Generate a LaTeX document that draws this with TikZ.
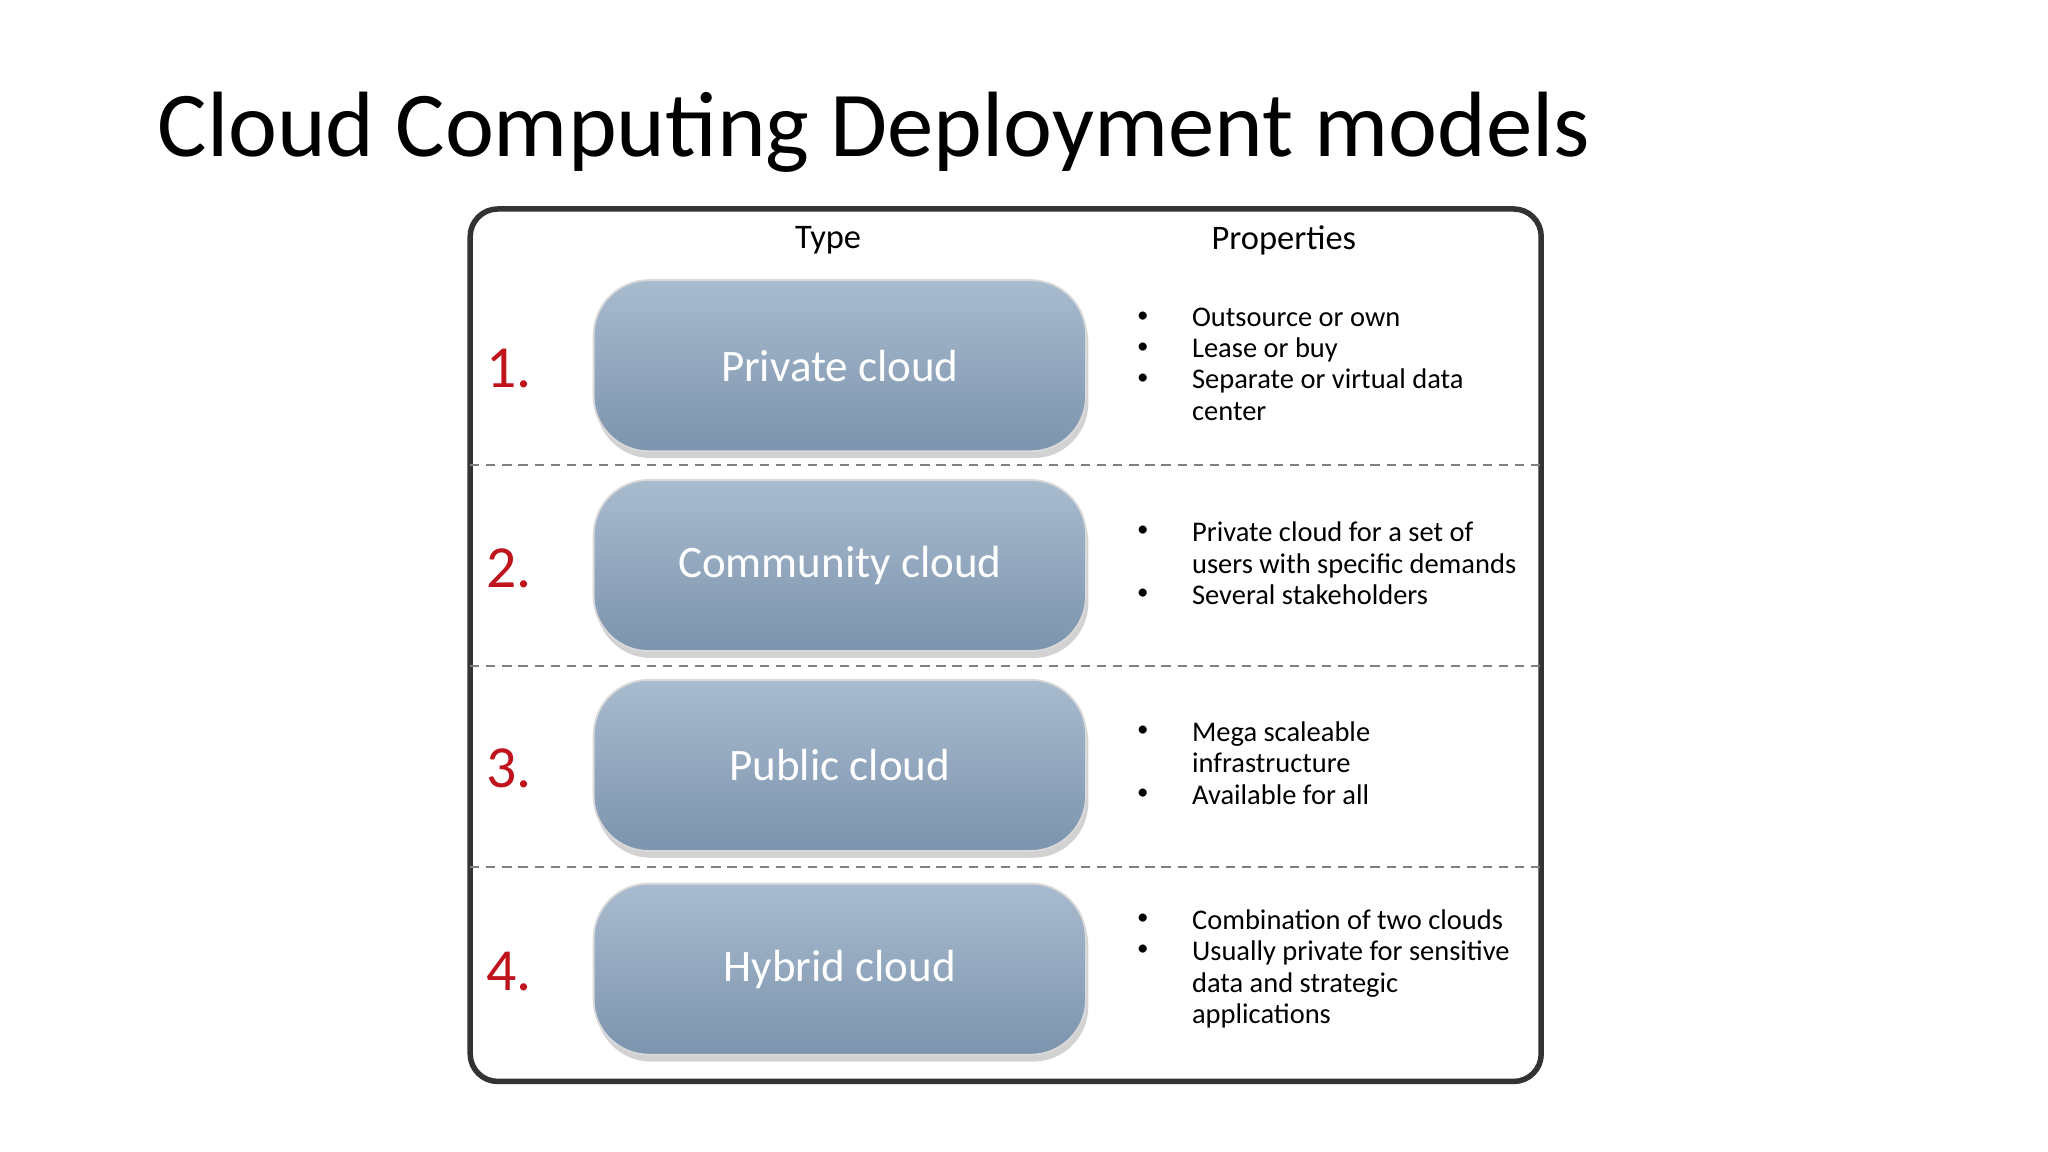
\documentclass[tikz,border=0pt]{standalone}
\usepackage{fontspec}
\setmainfont{Carlito}
\usetikzlibrary{shadows}
\begin{document}
\begin{tikzpicture}[x=0.01cm,y=-0.01cm,
  cbox/.style={draw=white!70!gray, rounded corners=12pt, top color=boxtop, bottom color=boxbot, minimum width=377*0.01cm, minimum height=131*0.01cm, text=white, font=\fontsize{9.8}{12}\selectfont, drop shadow={shadow xshift=0.5pt,shadow yshift=-1.5pt,opacity=0.35}},
  num/.style={text=numred, font=\fontsize{13}{15}\selectfont},
  hdr/.style={font=\fontsize{7.5}{9}\selectfont},
  prop/.style={anchor=north west, align=left, inner sep=0pt, font=\fontsize{6.2}{6.8}\selectfont},
  bul/.style={anchor=north, inner sep=0pt, font=\fontsize{5}{6.8}\selectfont},
  sep/.style={dash pattern=on 2pt off 1.5pt, gray, line width=0.5pt}]
\definecolor{boxtop}{HTML}{A9BBCE}
\definecolor{boxbot}{HTML}{7C94AE}
\definecolor{numred}{HTML}{C0141C}
\useasboundingbox (0,0) rectangle (1568,882);
\fill[white] (0,0) rectangle (1568,882);
\node[anchor=base west, inner sep=0pt, font=\fontsize{20.2}{24}\selectfont] (title) at (120,120) {Cloud Computing Deployment models};
\draw[line width=1.2pt, rounded corners=6pt, black!80] (360,160) rectangle (1180,828);
\coordinate (l1) at (360,356); \coordinate (r1) at (1180,356);
\coordinate (l2) at (360,510); \coordinate (r2) at (1180,510);
\coordinate (l3) at (360,664); \coordinate (r3) at (1180,664);
\draw[sep] (l1) -- (r1); \draw[sep] (l2) -- (r2); \draw[sep] (l3) -- (r3);
\node[hdr] (ht) at (634,184) {Type};
\node[hdr] (hp) at (983,184) {Properties};
\node[cbox] (b1) at (643,280) {Private cloud};
\node[cbox] (b2) at (643,433) {Community cloud};
\node[cbox] (b3) at (643,586) {Public cloud};
\node[cbox] (b4) at (643,742) {Hybrid cloud};
\node[num] (n1) at (390,282) {1.};
\node[num] (n2) at (390,435) {2.};
\node[num] (n3) at (390,588) {3.};
\node[num] (n4) at (390,744) {4.};
% properties
\node[prop] (p1a) at (912,235) {Outsource or own\\Lease or buy\\Separate or virtual data\\center};
\node[bul] at (875,238) {•}; \node[bul] at (875,262) {•}; \node[bul] at (875,286) {•};
\node[prop] (p2a) at (912,399) {Private cloud for a set of\\users with specific demands\\Several stakeholders};
\node[bul] at (875,402) {•}; \node[bul] at (875,450) {•};
\node[prop] (p3a) at (912,552) {Mega scaleable\\infrastructure\\Available for all};
\node[bul] at (875,555) {•}; \node[bul] at (875,603) {•};
\node[prop] (p4a) at (912,696) {Combination of two clouds\\Usually private for sensitive\\data and strategic\\applications};
\node[bul] at (875,699) {•}; \node[bul] at (875,723) {•};
\end{tikzpicture}
\end{document}
